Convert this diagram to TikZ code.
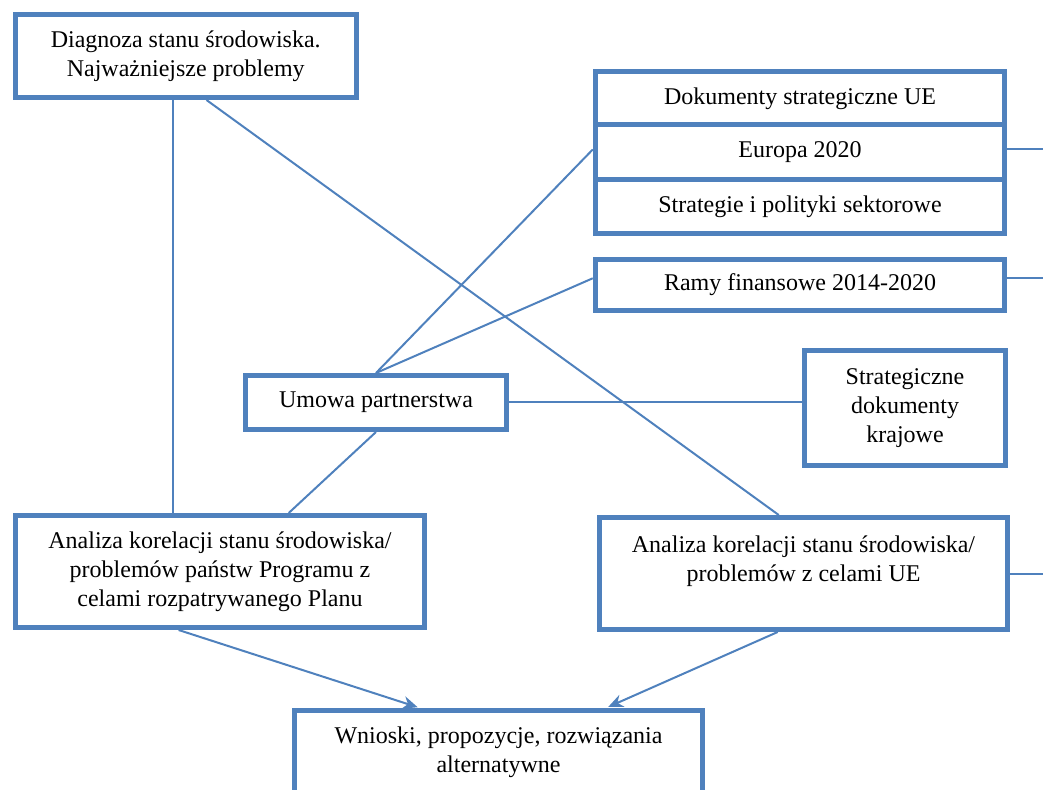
\documentclass[tikz,border=0pt]{standalone}
\usepackage{fontspec}
\setmainfont{Liberation Serif}
\usepackage{tikz}
\usetikzlibrary{calc,arrows.meta}

\definecolor{boxblue}{HTML}{4F81BD}

\tikzset{
  box/.style={draw=boxblue, line width=2.5pt, fill=white, align=center, inner sep=0pt,
    font=\fontsize{12}{14.5}\selectfont},
  link/.style={draw=boxblue, line width=1pt},
  flow/.style={link, -{Stealth[length=7.5pt,width=6.5pt]}, shorten >=1.25pt}
}

\begin{document}
\begin{tikzpicture}[x=0.5pt,y=-0.5pt]
  \clip (0,0) rectangle (1043,790);
  % boxes
  \node[box, minimum width=170.25pt, minimum height=41.5pt] (diag) at (185.75,56)
    {Diagnoza stanu środowiska.\\Najważniejsze problemy};
  \node[box, minimum width=204.75pt, minimum height=26.5pt] (dok) at (800,98.5)
    {Dokumenty strategiczne UE};
  \node[box, minimum width=204.75pt, minimum height=27pt] (strat) at (800,207)
    {Strategie i polityki sektorowe};
  \node[box, minimum width=204.75pt, minimum height=27.5pt] (eur) at (800,152.5)
    {Europa 2020};
  \node[box, minimum width=204.75pt, minimum height=25.5pt] (ramy) at (800,285)
    {Ramy finansowe 2014-2020};
  \node[box, minimum width=130.5pt, minimum height=27pt] (umowa) at (376,402.5)
    {Umowa partnerstwa};
  \node[box, minimum width=100.5pt, minimum height=57.5pt] (kraj) at (905,408)
    {Strategiczne\\dokumenty\\krajowe};
  \node[box, minimum width=204.5pt, minimum height=56pt] (anlL) at (220,571.5)
    {Analiza korelacji stanu środowiska/\\problemów państw Programu z\\celami rozpatrywanego Planu};
  \node[box, minimum width=204pt, minimum height=56pt] (anlR) at (803.5,573.5)
    {Analiza korelacji stanu środowiska/\\problemów z celami UE\\~};
  \node[box, minimum width=204pt, minimum height=41.5pt] (wn) at (498.5,752)
    {Wnioski, propozycje, rozwiązania\\alternatywne};

  % points on the box edges
  \coordinate (diagV) at ($(diag.south west)!0.463!(diag.south east)$);
  \coordinate (eurE) at ($(eur.north east)!0.45!(eur.south east)$);
  \coordinate (ramyE) at ($(ramy.north east)!0.38!(ramy.south east)$);
  % free ends at the right margin
  \coordinate (edgeR) at (1043,0);

  % connectors
  \draw[link] (diagV) -- (diagV |- anlL.north);
  \draw[link] ($(diag.south west)!0.56!(diag.south east)$)
    -- ($(anlR.north west)!0.44!(anlR.north east)$);
  \draw[link] (umowa.north) -- ($(eur.north west)!0.45!(eur.south west)$);
  \draw[link] (umowa.north) -- ($(ramy.north west)!0.38!(ramy.south west)$);
  \draw[link] (umowa.east) -- (umowa.east -| kraj.west);
  \draw[link] (umowa.south) -- ($(anlL.north west)!0.666!(anlL.north east)$);
  \draw[link] (eurE) -- (eurE -| edgeR);
  \draw[link] (ramyE) -- (ramyE -| edgeR);
  \draw[link] (anlR.east) -- (anlR.east -| edgeR);
  \draw[flow] ($(anlL.south west)!0.40!(anlL.south east)$)
    -- ($(wn.north west)!0.31!(wn.north east)$);
  \draw[flow] ($(anlR.south west)!0.4375!(anlR.south east)$)
    -- ($(wn.north west)!0.76!(wn.north east)$);
\end{tikzpicture}
\end{document}
